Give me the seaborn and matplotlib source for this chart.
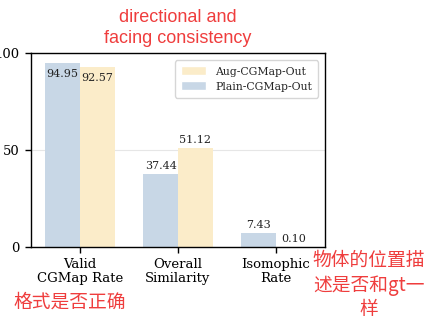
import matplotlib
matplotlib.use("Agg")
import matplotlib.pyplot as plt
import seaborn as sns
import pandas as pd
from matplotlib.patches import Patch

categories = ["Valid\nCGMap Rate", "Overall\nSimilarity", "Isomophic\nRate"]
plain_vals = [94.95, 37.44, 7.43]
aug_vals = [92.57, 51.12, 0.10]
series = ["Plain-CGMap-Out", "Aug-CGMap-Out"]
yticks = [0, 50, 100]

colors = {"Plain-CGMap-Out": "#c8d7e6", "Aug-CGMap-Out": "#fbecc9"}

df = pd.DataFrame({
    "category": categories * 2,
    "value": plain_vals + aug_vals,
    "series": [series[0]] * 3 + [series[1]] * 3,
})

sns.set_style("white")
plt.rcParams['font.family'] = ['DejaVu Serif']

fig = plt.figure(figsize=(4.35, 3.24), dpi=100)
ax = fig.add_axes([31/435, 77/324, (325-31)/435, (247-53)/324])

sns.barplot(data=df, x="category", y="value", hue="series", hue_order=series,
            palette=colors, saturation=1, width=0.71, linewidth=0, ax=ax,
            legend=False, zorder=2)

ax.set_ylim(0, 100)
ax.set_xlim(-0.5, 2.5)
ax.set_yticks(yticks)
ax.set_xlabel("")
ax.set_ylabel("")
ax.yaxis.grid(True, color="#e6e6e6", linewidth=0.8, zorder=0)
ax.set_axisbelow(True)
for s in ax.spines.values():
    s.set_color("black")
    s.set_linewidth(1.0)
ax.tick_params(axis="both", which="both", length=4, width=1, colors="black",
               labelsize=9.5, pad=4, left=True, bottom=True)
for lab in ax.get_xticklabels():
    lab.set_linespacing(1.1)

for cont in ax.containers:
    for rect in cont:
        h = rect.get_height()
        cx = rect.get_x() + rect.get_width() / 2
        if h > 80:
            ax.text(cx, h - 3, f"{h:.2f}", ha="center", va="top", fontsize=8, color="#222222")
        else:
            ax.text(cx, h + 1.5, f"{h:.2f}", ha="center", va="bottom", fontsize=8, color="#222222")

handles = [Patch(facecolor=colors["Aug-CGMap-Out"], label="Aug-CGMap-Out"),
           Patch(facecolor=colors["Plain-CGMap-Out"], label="Plain-CGMap-Out")]
ax.legend(handles=handles, loc="upper right", fontsize=7.8, frameon=True,
          edgecolor="#cccccc", fancybox=True, handlelength=2.3, handleheight=0.9,
          borderpad=0.55, labelspacing=0.45, handletextpad=0.9,
          bbox_to_anchor=(0.995, 0.99))

red = "#ef3d3d"
fig.text(178/435, 1 - 28/324, "directional and\nfacing consistency", ha="center", va="center",
         fontsize=13, color=red, family=["Liberation Sans"], linespacing=1.25)
fig.text(70/435, 1 - 302/324, "格式是否正确", ha="center", va="center",
         fontsize=13.5, color=red, family=["Noto Sans CJK SC"])
fig.text(369/435, 1 - 285/324, "物体的位置描\n述是否和gt一\n样", ha="center", va="center",
         fontsize=13.5, color=red, family=["Noto Sans CJK SC"], linespacing=1.2)

fig.savefig("out.png", dpi=100)
